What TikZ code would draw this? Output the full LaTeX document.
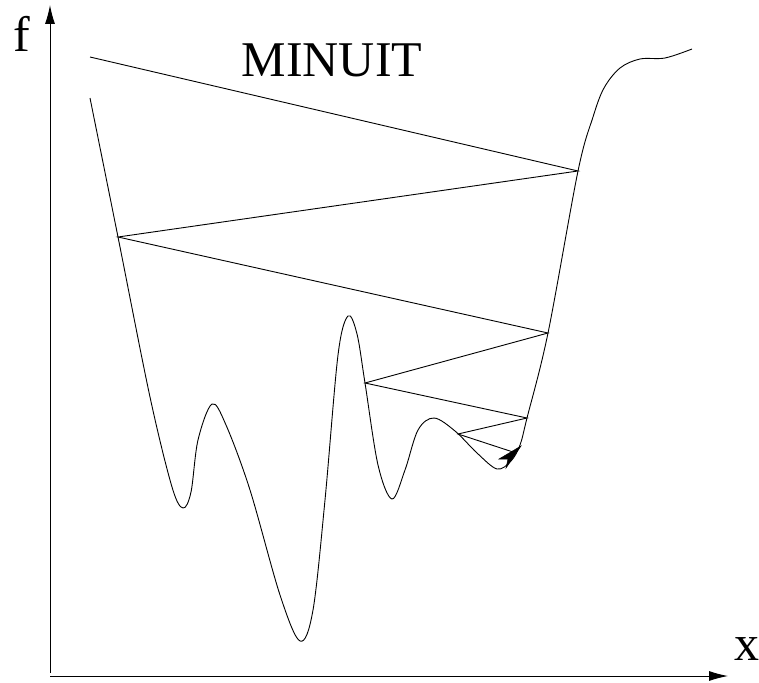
\documentclass[tikz,border=0pt]{standalone}
\usepackage{fontspec}
\setmainfont{Liberation Serif}
\usetikzlibrary{arrows.meta}
\begin{document}
\begin{tikzpicture}[x=1pt,y=-1pt,
  axis/.style={line width=0.9pt,-{Latex[length=19pt,width=10pt]}},
  curve/.style={line width=0.9pt},
  zig/.style={line width=0.9pt},
  tip/.style={fill=black,draw=black,line width=0.5pt,line join=miter},
  lbl/.style={font=\fontsize{50}{60}\selectfont,anchor=base,inner sep=0pt}]
\useasboundingbox (0,0) rectangle (759,682);
% axes
\coordinate (o) at (50,676);
\coordinate (ybot) at (50,673);
\coordinate (ytop) at (50,5);
\coordinate (xend) at (728,676);
\draw[axis] (ybot) -- (ytop);
\draw[axis] (o) -- (xend);
\node[lbl] (f) at (22,52) {f};
\node[lbl] (xl) at (747,660) {x};
\node[lbl] (title) at (332,77) {MINUIT};
% vertices on curve
\coordinate (s) at (90,57);
\coordinate (a) at (578,171);
\coordinate (b) at (118,237);
\coordinate (c) at (548,333);
\coordinate (d) at (365,383);
\coordinate (e) at (527,418);
\coordinate (g) at (458,434);
\coordinate (h) at (513,452);
% curve
\draw[curve] plot[smooth,tension=0.55] coordinates {
 (90,98) (118,237) (150,397) (172,487) (183,508) (191,492) (198,440) (212,404)
 (226,425) (250,490) (280,595) (300,641) (313,610) (325,500) (338,355) (348,316)
 (357,334) (365,383) (378,465) (392,499) (405,470) (418,430) (434,418) (455,431)
 (477,453) (497,469) (511,461) (520,445) (527,418) (548,333) (578,171) (593,117)
 (604,88) (620,68) (640,59) (665,58) (692,49)};
% zigzag
\draw[zig] (s) -- (a) -- (b) -- (c) -- (d) -- (e) -- (g) -- (h);
% arrowhead
\filldraw[tip] (521,446) -- (499,459) -- (508,459) -- (506,468) -- cycle;
\end{tikzpicture}
\end{document}
